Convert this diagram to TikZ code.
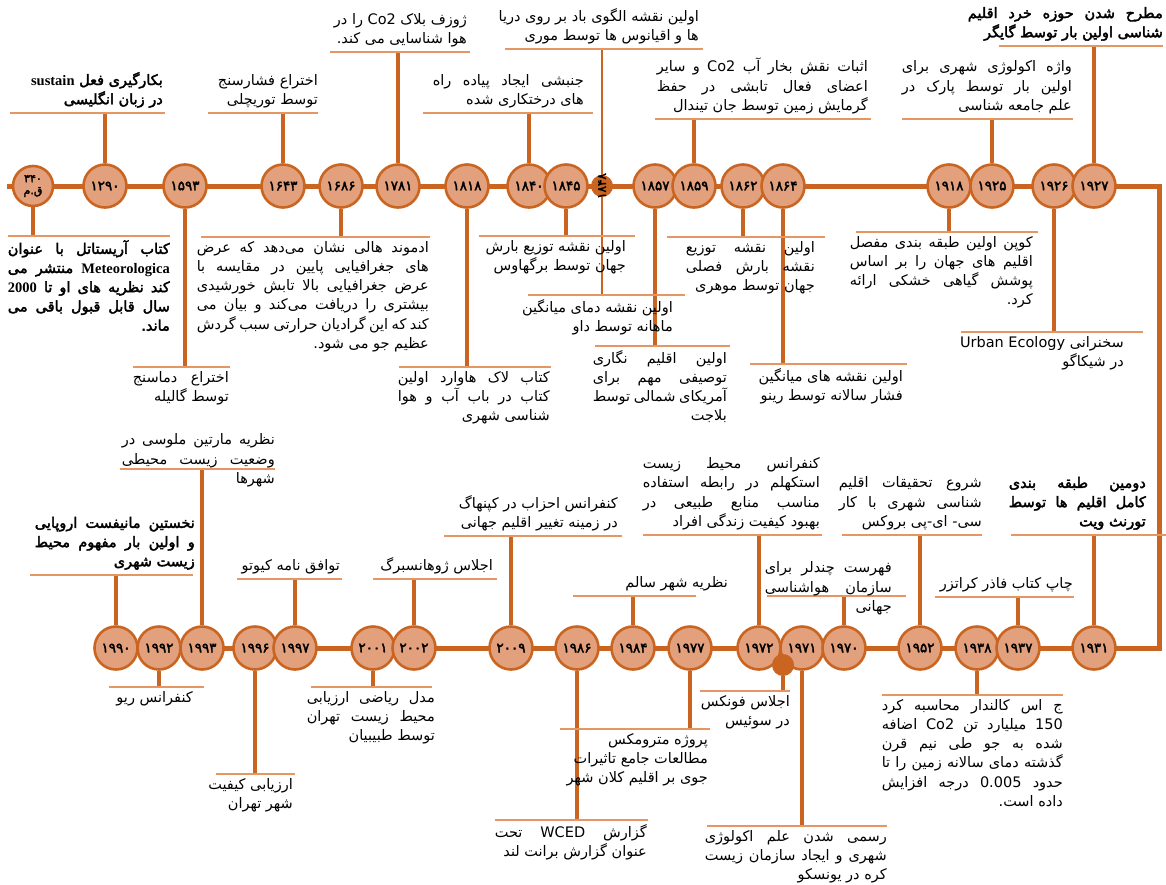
\documentclass[tikz,border=0pt]{standalone}
\usepackage{fontspec}
\setmainfont{DejaVu Sans}
\newfontfamily\fa[Script=Arabic,BoldFont={DejaVu Sans},BoldFeatures={FakeBold=2.5}]{DejaVu Sans}
\newfontfamily\latin{Liberation Serif}
\TeXXeTstate=1

\definecolor{tlline}{RGB}{201,101,33}
\definecolor{tlfill}{RGB}{226,160,125}
\definecolor{tlrule}{RGB}{230,150,100}

\newlength\colw
\newcommand{\rl}[1]{\beginR #1\endR}
\newcommand{\jl}[1]{\makebox[\colw][s]{\beginR #1\endR}}
\newcommand{\lr}[1]{\beginL #1\endL}

\begin{document}
\begin{tikzpicture}[x=1pt,y=-1pt,
    yr/.style={circle,draw=tlline,fill=tlfill,line width=2.6pt,minimum size=43pt,inner sep=0pt,
      font=\fa\bfseries\fontsize{13.5}{14}\selectfont},
    dot/.style={circle,fill=tlline,minimum size=22pt,inner sep=0pt},
    axis/.style={draw=tlline,line width=5pt},
    rule/.style={draw=tlrule,line width=1.6pt},
    evup/.style={anchor=south east,align=right,inner sep=0pt,
      font=\fa\fontsize{14.5}{19.2}\selectfont,execute at begin node={\setlength{\colw}{#1}}},
    evup/.default=100pt,
    evdn/.style={evup=#1,anchor=north east},
    evdn/.default=100pt,
    heavy/.style={font=\fa\bfseries\fontsize{14.5}{19.2}\selectfont}]

  \useasboundingbox (0,0) rectangle (1166,884);

  % main line, upper row then down and back along the lower row
  \coordinate (tl) at (7,186);
  \coordinate (tr) at (1159,186);
  \coordinate (br) at (1159,648);
  \draw[axis] (tl) -- (tr) -- (br) -- (116,648);

  % upper row
  \begin{scope}[every node/.style=yr]
    \node[minimum size=40pt,align=center,font=\fa\bfseries\fontsize{11}{12}\selectfont] (y340) at (33,186) {۳۴۰\\ق.م};
    \node (y1290) at (105,186) {۱۲۹۰};
    \node (y1593) at (185,186) {۱۵۹۳};
    \node (y1643) at (283,186) {۱۶۴۳};
    \node (y1686) at (341,186) {۱۶۸۶};
    \node (y1781) at (398,186) {۱۷۸۱};
    \node (y1818) at (467,186) {۱۸۱۸};
    \node (y1840) at (529,186) {۱۸۴۰};
    \node (y1845) at (566,186) {۱۸۴۵};
    \node (y1857) at (655,186) {۱۸۵۷};
    \node (y1859) at (694,186) {۱۸۵۹};
    \node (y1862) at (743,186) {۱۸۶۲};
    \node (y1864) at (783,186) {۱۸۶۴};
    \node (y1918) at (949,186) {۱۹۱۸};
    \node (y1925) at (992,186) {۱۹۲۵};
    \node (y1926) at (1054,186) {۱۹۲۶};
    \node (y1927) at (1094,186) {۱۹۲۷};
  \end{scope}
  \node[dot] (y1848) at (602,186) {};
  \node[rotate=90,inner sep=0pt,font=\fa\bfseries\fontsize{12}{12}\selectfont] (n1848) at (y1848) {۱۸۴۸};

  % lower row
  \begin{scope}[every node/.style=yr]
    \node (y1990) at (116,648) {۱۹۹۰};
    \node (y1992) at (159,648) {۱۹۹۲};
    \node (y1993) at (202,648) {۱۹۹۳};
    \node (y1996) at (255,648) {۱۹۹۶};
    \node (y1997) at (295,648) {۱۹۹۷};
    \node (y2001) at (373,648) {۲۰۰۱};
    \node (y2002) at (414,648) {۲۰۰۲};
    \node (y2009) at (511,648) {۲۰۰۹};
    \node (y1986) at (577,648) {۱۹۸۶};
    \node (y1984) at (633,648) {۱۹۸۴};
    \node (y1977) at (690,648) {۱۹۷۷};
    \node (y1972) at (759,648) {۱۹۷۲};
    \node (y1971) at (802,648) {۱۹۷۱};
    \node (y1970) at (844,648) {۱۹۷۰};
    \node (y1952) at (920,648) {۱۹۵۲};
    \node (y1938) at (977,648) {۱۹۳۸};
    \node (y1937) at (1018,648) {۱۹۳۷};
    \node (y1931) at (1094,648) {۱۹۳۱};
  \end{scope}
  \node[dot] (fonx) at (783,665) {};

  % ends of the stems
  \coordinate (s340) at (33,236);
  \coordinate (s1290) at (105,113);
  \coordinate (s1593) at (185,367);
  \coordinate (s1643) at (283,113);
  \coordinate (s1686) at (341,237);
  \coordinate (s1781) at (398,52);
  \coordinate (s1818) at (467,367);
  \coordinate (s1840) at (529,113);
  \coordinate (s1845) at (566,236);
  \coordinate (s1848a) at (602,49);
  \coordinate (s1848b) at (602,295);
  \coordinate (s1857) at (655,346);
  \coordinate (s1859) at (694,119);
  \coordinate (s1862) at (743,237);
  \coordinate (s1864) at (783,364);
  \coordinate (s1918) at (949,232);
  \coordinate (s1925) at (992,119);
  \coordinate (s1926) at (1054,332);
  \coordinate (s1927) at (1094,46);
  \coordinate (s1990) at (116,575);
  \coordinate (s1992) at (159,687);
  \coordinate (s1993) at (202,469);
  \coordinate (s1996) at (255,774);
  \coordinate (s1997) at (295,579);
  \coordinate (s2001) at (373,687);
  \coordinate (s2002) at (414,579);
  \coordinate (s2009) at (511,536);
  \coordinate (s1986) at (577,820);
  \coordinate (s1984) at (633,596);
  \coordinate (s1977) at (690,729);
  \coordinate (s1972) at (759,535);
  \coordinate (sfonx) at (783,691);
  \coordinate (s1971) at (802,826);
  \coordinate (s1970) at (844,596);
  \coordinate (s1952) at (920,535);
  \coordinate (s1938) at (977,695);
  \coordinate (s1937) at (1018,597);
  \coordinate (s1931) at (1094,535);

  \begin{scope}[every edge/.style={draw=tlline,line width=3.8pt}]
    \path (y340) edge (s340);
    \path (y1290) edge (s1290);
    \path (y1593) edge (s1593);
    \path (y1643) edge (s1643);
    \path (y1686) edge (s1686);
    \path (y1781) edge (s1781);
    \path (y1818) edge (s1818);
    \path (y1840) edge (s1840);
    \path (y1845) edge (s1845);
    \path (y1857) edge (s1857);
    \path (y1859) edge (s1859);
    \path (y1862) edge (s1862);
    \path (y1864) edge (s1864);
    \path (y1918) edge (s1918);
    \path (y1925) edge (s1925);
    \path (y1926) edge (s1926);
    \path (y1927) edge (s1927);
    \path (y1990) edge (s1990);
    \path (y1992) edge (s1992);
    \path (y1993) edge (s1993);
    \path (y1996) edge (s1996);
    \path (y1997) edge (s1997);
    \path (y2001) edge (s2001);
    \path (y2002) edge (s2002);
    \path (y2009) edge (s2009);
    \path (y1986) edge (s1986);
    \path (y1984) edge (s1984);
    \path (y1977) edge (s1977);
    \path (y1972) edge (s1972);
    \path (fonx) edge (sfonx);
    \path (y1971) edge (s1971);
    \path (y1970) edge (s1970);
    \path (y1952) edge (s1952);
    \path (y1938) edge (s1938);
    \path (y1937) edge (s1937);
    \path (y1931) edge (s1931);
  \end{scope}

  \begin{scope}[every edge/.style={draw=tlline,line width=1.6pt}]
    \path (y1848) edge (s1848a);
    \path (y1848) edge (s1848b);
  \end{scope}

  % underlines of the notes
  \draw[rule] (10,113) -- (165,113);
  \draw[rule] (208,113) -- (318,113);
  \draw[rule] (330,52) -- (470,52);
  \draw[rule] (423,113) -- (593,113);
  \draw[rule] (505,49) -- (703,49);
  \draw[rule] (655,119) -- (871,119);
  \draw[rule] (902,119) -- (1073,119);
  \draw[rule] (999,46) -- (1163,46);
  \draw[rule] (8,236) -- (170,236);
  \draw[rule] (133,367) -- (230,367);
  \draw[rule] (201,237) -- (430,237);
  \draw[rule] (399,367) -- (551,367);
  \draw[rule] (479,236) -- (635,236);
  \draw[rule] (528,295) -- (685,295);
  \draw[rule] (595,346) -- (730,346);
  \draw[rule] (667,237) -- (825,237);
  \draw[rule] (750,364) -- (907,364);
  \draw[rule] (856,232) -- (1038,232);
  \draw[rule] (961,332) -- (1143,332);
  \draw[rule] (30,575) -- (193,575);
  \draw[rule] (120,469) -- (275,469);
  \draw[rule] (237,579) -- (342,579);
  \draw[rule] (373,579) -- (497,579);
  \draw[rule] (444,536) -- (622,536);
  \draw[rule] (573,596) -- (696,596);
  \draw[rule] (643,535) -- (822,535);
  \draw[rule] (767,596) -- (906,596);
  \draw[rule] (842,535) -- (982,535);
  \draw[rule] (935,597) -- (1074,597);
  \draw[rule] (1011,535) -- (1166,535);
  \draw[rule] (109,687) -- (204,687);
  \draw[rule] (216,774) -- (295,774);
  \draw[rule] (311,687) -- (432,687);
  \draw[rule] (495,820) -- (648,820);
  \draw[rule] (560,729) -- (710,729);
  \draw[rule] (700,691) -- (790,691);
  \draw[rule] (707,826) -- (887,826);
  \draw[rule] (882,695) -- (1063,695);

  % notes above the upper row
  \node[evup=141pt,heavy] (t1290) at (163,108) {\rl{بکارگیری فعل {\latin\bfseries sustain}}\\ \rl{در زبان انگلیسی}};
  \node[evup] (t1643) at (318,108) {\rl{اختراع فشارسنج}\\ \rl{توسط توریچلی}};
  \node[evup] (t1781) at (467,47) {\rl{ژوزف بلاک Co2 را در}\\ \rl{هوا شناسایی می کند.}};
  \node[evup=151pt] (t1840) at (584,108) {\jl{جنبشی ایجاد پیاده راه}\\ \rl{های درختکاری شده}};
  \node[evup] (t1848a) at (699,44) {\rl{اولین نقشه الگوی باد بر روی دریا}\\ \rl{ها و اقیانوس ها توسط موری}};
  \node[evup=211pt] (t1859) at (868,114) {\jl{اثبات نقش بخار آب Co2 و سایر}\\ \jl{اعضای فعال تابشی در حفظ}\\ \rl{گرمایش زمین توسط جان تیندال}};
  \node[evup=170pt] (t1925) at (1072,114) {\jl{واژه اکولوژی شهری برای}\\ \jl{اولین بار توسط پارک در}\\ \rl{علم جامعه شناسی}};
  \node[evup=195pt,heavy] (t1927) at (1163,41) {\jl{مطرح شدن حوزه خرد اقلیم}\\ \rl{شناسی اولین بار توسط گایگر}};

  % notes below the upper row
  \node[evdn=162pt,heavy] (t340) at (170,240) {\jl{کتاب آریستاتل با عنوان}\\ \jl{{\latin\bfseries Meteorologica} منتشر می}\\ \jl{کند نظریه های او تا {\latin\bfseries 2000}}\\ \jl{سال قابل قبول باقی می}\\ \rl{ماند.}};
  \node[evdn=96pt] (t1593) at (229,371) {\jl{اختراع دماسنج}\\ \rl{توسط گالیله}};
  \node[evdn=232pt] (t1686) at (429,241) {\jl{ادموند هالی نشان می‌دهد که عرض}\\ \jl{های جغرافیایی پایین در مقایسه با}\\ \jl{عرض جغرافیایی بالا تابش خورشیدی}\\ \jl{بیشتری را دریافت می‌کند و بیان می}\\ \jl{کند که این گرادیان حرارتی سبب گردش}\\ \rl{عظیم جو می شود.}};
  \node[evdn=152pt] (t1818) at (550,371) {\jl{کتاب لاک هاوارد اولین}\\ \jl{کتاب در باب آب و هوا}\\ \rl{شناسی شهری}};
  \node[evdn] (t1845) at (626,240) {\rl{اولین نقشه توزیع بارش}\\ \rl{جهان توسط برگهاوس}};
  \node[evdn] (t1848b) at (673,299) {\rl{اولین نقشه دمای میانگین}\\ \rl{ماهانه توسط داو}};
  \node[evdn=134pt] (t1857) at (727,350) {\jl{اولین اقلیم نگاری}\\ \jl{توصیفی مهم برای}\\ \jl{آمریکای شمالی توسط}\\ \rl{بلاجت}};
  \node[evdn=129pt] (t1862) at (815,241) {\jl{اولین نقشه توزیع}\\ \jl{نقشه بارش فصلی}\\ \rl{جهان توسط موهری}};
  \node[evdn] (t1864) at (903,368) {\rl{اولین نقشه های میانگین}\\ \rl{فشار سالانه توسط رینو}};
  \node[evdn=183pt] (t1918) at (1033,236) {\jl{کوپن اولین طبقه بندی مفصل}\\ \jl{اقلیم های جهان را بر اساس}\\ \jl{پوشش گیاهی خشکی ارائه}\\ \rl{کرد.}};
  \node[evdn] (t1926) at (1124,336) {\rl{سخنرانی \lr{Urban Ecology}}\\ \rl{در شیکاگو}};

  % notes above the lower row
  \node[evup=160pt,heavy] (t1990) at (195,570) {\jl{نخستین مانیفست اروپایی}\\ \jl{و اولین بار مفهوم محیط}\\ \rl{زیست شهری}};
  \node[evup=153pt] (t1993) at (275,487) {\jl{نظریه مارتین ملوسی در}\\ \jl{وضعیت زیست محیطی}\\ \rl{شهرها}};
  \node[evup] (t1997) at (340,574) {\rl{توافق نامه کیوتو}};
  \node[evup] (t2002) at (493,574) {\rl{اجلاس ژوهانسبرگ}};
  \node[evup] (t2009) at (618,531) {\rl{کنفرانس احزاب در کپنهاگ}\\ \rl{در زمینه تغییر اقلیم جهانی}};
  \node[evup] (t1984) at (728,591) {\rl{نظریه شهر سالم}};
  \node[evup=177pt] (t1972) at (820,530) {\jl{کنفرانس محیط زیست}\\ \jl{استکهلم در رابطه استفاده}\\ \jl{مناسب منابع طبیعی در}\\ \rl{بهبود کیفیت زندگی افراد}};
  \node[evup=127pt] (t1970) at (892,615) {\jl{فهرست چندلر برای}\\ \jl{سازمان هواشناسی}\\ \rl{جهانی}};
  \node[evup=143pt] (t1952) at (982,530) {\jl{شروع تحقیقات اقلیم}\\ \jl{شناسی شهری با کار}\\ \rl{سی- ای-پی بروکس}};
  \node[evup] (t1937) at (1073,592) {\rl{چاپ کتاب فاذر کراتزر}};
  \node[evup=137pt,heavy] (t1931) at (1146,530) {\jl{دومین طبقه بندی}\\ \jl{کامل اقلیم ها توسط}\\ \rl{تورنث ویت}};

  % notes below the lower row
  \node[evdn] (t1992) at (193,691) {\rl{کنفرانس ریو}};
  \node[evdn] (t1996) at (293,778) {\rl{ارزیابی کیفیت}\\ \rl{شهر تهران}};
  \node[evdn=128pt] (t2001) at (435,691) {\jl{مدل ریاضی ارزیابی}\\ \jl{محیط زیست تهران}\\ \rl{توسط طبیبیان}};
  \node[evdn=152pt] (t1986) at (647,824) {\jl{گزارش WCED تحت}\\ \rl{عنوان گزارش برانت لند}};
  \node[evdn] (t1977) at (708,733) {\rl{پروژه مترومکس}\\ \rl{مطالعات جامع تاثیرات}\\ \rl{جوی بر اقلیم کلان شهر}};
  \node[evdn] (tfonx) at (790,695) {\rl{اجلاس فونکس}\\ \rl{در سوئیس}};
  \node[evdn=182pt] (t1971) at (887,830) {\jl{رسمی شدن علم اکولوژی}\\ \jl{شهری و ایجاد سازمان زیست}\\ \rl{کره در یونسکو}};
  \node[evdn=181pt] (t1938) at (1063,699) {\jl{ج اس کالندار محاسبه کرد}\\ \jl{150 میلیارد تن Co2 اضافه}\\ \jl{شده به جو طی نیم قرن}\\ \jl{گذشته دمای سالانه زمین را تا}\\ \jl{حدود 0.005 درجه افزایش}\\ \rl{داده است.}};

\end{tikzpicture}
\end{document}
